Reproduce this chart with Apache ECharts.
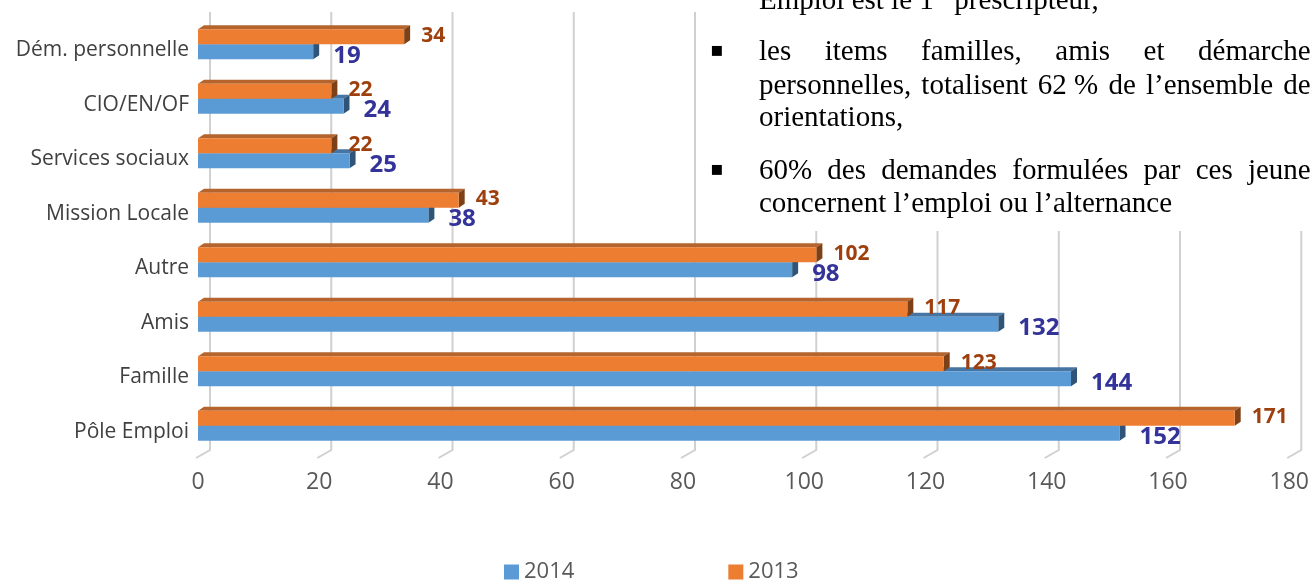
<!DOCTYPE html>
<html>
<head>
<meta charset="utf-8">
<title>Prescripteurs 2013 - 2014</title>
<script src="https://cdn.jsdelivr.net/npm/echarts@6/dist/echarts.min.js"></script>
</head>
<body style="margin:0">
<div id="main" style="width:1312px;height:583px"></div>
<script>
var categories = ['Pôle Emploi', 'Famille', 'Amis', 'Autre', 'Mission Locale', 'Services sociaux', 'CIO/EN/OF', 'Dém. personnelle'];
var values2014 = [152, 144, 132, 98, 38, 25, 24, 19];
var values2013 = [171, 123, 117, 102, 43, 22, 22, 34];
var xTicks = [0, 20, 40, 60, 80, 100, 120, 140, 160, 180];

// texte du document qui recouvre le haut du graphique
var line1 = 'Emploi est le 1{sup|er} prescripteur,';
var line2 = ['les', 'items', 'familles,', 'amis', 'et', 'démarches'];
var line3 = ['personnelles,', 'totalisent', '62\u00a0%', 'de', 'l’ensemble', 'des'];
var line4 = 'orientations,';
var line5 = ['60%', 'des', 'demandes', 'formulées', 'par', 'ces', 'jeunes'];
var line6 = 'concernent l’emploi ou l’alternance';

var myChart = echarts.init(document.getElementById('main'));

var serif = '"Liberation Serif", "Times New Roman", serif';
var serifFont = '29px ' + serif;
var ctx = document.createElement('canvas').getContext('2d');
ctx.font = serifFont;

function justify(words, left, right, y) {
	var widths = words.map(function (w) { return ctx.measureText(w).width; });
	var total = widths.reduce(function (a, b) { return a + b; }, 0);
	var gap = (right - left - total) / (words.length - 1);
	var x = left, out = [];
	words.forEach(function (w, i) {
		out.push(textEl(w, x, y));
		x += widths[i] + gap;
	});
	return out;
}
function textEl(t, x, y) {
	return {
		type: 'text', x: x, y: y, silent: true,
		style: {text: t, font: serifFont, fill: '#000', verticalAlign: 'middle'}
	};
}
function bullet(y) {
	return {
		type: 'text', x: 710, y: y, silent: true,
		style: {text: '\u25AA', font: '20px "DejaVu Sans"', fill: '#000', verticalAlign: 'middle'}
	};
}

var graphics = [
	// le bloc de texte masque le haut du graphique
	{type: 'rect', silent: true, shape: {x: 704, y: 0, width: 608, height: 231}, style: {fill: '#fff'}},
	{
		type: 'text', x: 759, y: 1, silent: true,
		style: {
			text: line1, font: serifFont, fill: '#000', verticalAlign: 'middle',
			rich: {sup: {fontSize: 17, fontFamily: serif, verticalAlign: 'top', padding: [0, 0, 11, 0]}}
		}
	},
	bullet(51),
	bullet(170),
	textEl(line4, 759, 118),
	textEl(line6, 759, 204)
].concat(justify(line2, 759, 1322, 52))
 .concat(justify(line3, 759, 1322, 86))
 .concat(justify(line5, 759, 1322, 171));
graphics.forEach(function (g) { g.z = 100; });

// barre en relief : face avant, dessus, côté droit + étiquette
function bar3d(above, front, top, side, labelColor, labelSize, gap, nudge) {
	return function (params, api) {
		var cat = api.value(1);
		var p0 = api.coord([0, cat]);
		var p1 = api.coord([api.value(0), cat]);
		var h = api.size([0, 1])[1] * 0.275;
		var y = above ? p0[1] - h : p0[1];
		var dx = 6, dy = 4;
		var x0 = p0[0], x1 = p1[0];
		return {
			type: 'group',
			children: [
				{type: 'polygon', shape: {points: [[x0, y], [x0 + dx, y - dy], [x1 + dx, y - dy], [x1, y]]}, style: {fill: top}},
				{type: 'polygon', shape: {points: [[x1, y], [x1 + dx, y - dy], [x1 + dx, y + h - dy], [x1, y + h]]}, style: {fill: side}},
				{type: 'rect', shape: {x: x0, y: y, width: x1 - x0, height: h}, style: {fill: front}},
				{
					type: 'text',
					style: {
						text: String(api.value(0)), x: x1 + gap, y: y + h / 2 + nudge,
						fill: labelColor, font: 'bold ' + labelSize + 'px "Open Sans"',
						verticalAlign: 'middle', align: 'left'
					}
				}
			]
		};
	};
}

// murs du fond : lignes verticales décalées et amorces du plancher
function wallLine(params, api) {
	var x = api.coord([api.value(0), 0])[0];
	var cs = params.coordSys;
	var bottom = cs.y + cs.height;
	return {
		type: 'polyline', silent: true,
		shape: {points: [[x + 12, cs.y - 5], [x + 12, bottom - 3], [x - 2, bottom + 5]]},
		style: {stroke: '#D0D0D0', lineWidth: 2, fill: null}
	};
}

var option = {
	backgroundColor: '#fff',
	animation: false,
	textStyle: {fontFamily: '"Open Sans"'},
	grid: {left: 198, right: 20, top: 17, bottom: 130},
	xAxis: {
		type: 'value', min: 0, max: 180, interval: 20,
		axisLine: {show: false}, axisTick: {show: false}, splitLine: {show: false},
		axisLabel: {fontSize: 23, color: '#595959', margin: 18}
	},
	yAxis: {
		type: 'category', data: categories,
		axisLine: {show: false}, axisTick: {show: false},
		axisLabel: {fontSize: 21, color: '#404040', margin: 9, verticalAlign: 'top', lineHeight: 12}
	},
	legend: {
		data: ['2014', '2013'],
		left: 499, top: 556,
		icon: 'rect', itemWidth: 15, itemHeight: 15, itemGap: 154,
		textStyle: {fontSize: 22, color: '#595959'}
	},
	graphic: graphics,
	series: [
		{
			name: 'mur', type: 'custom', silent: true, z: 1,
			data: xTicks.map(function (v) { return [v, 0]; }),
			renderItem: wallLine
		},
		{
			name: '2014', type: 'custom',
			itemStyle: {color: '#5B9BD5'},
			data: values2014.map(function (v, i) { return [v, i]; }),
			renderItem: bar3d(false, '#5B9BD5', '#4674A3', '#2F5478', '#333399', 24, 20, 4)
		},
		{
			name: '2013', type: 'custom',
			itemStyle: {color: '#ED7D31'},
			data: values2013.map(function (v, i) { return [v, i]; }),
			renderItem: bar3d(true, '#ED7D31', '#B5642E', '#7E4117', '#9E400E', 21, 17, -1)
		}
	]
};
myChart.setOption(option);
</script>
</body>
</html>
